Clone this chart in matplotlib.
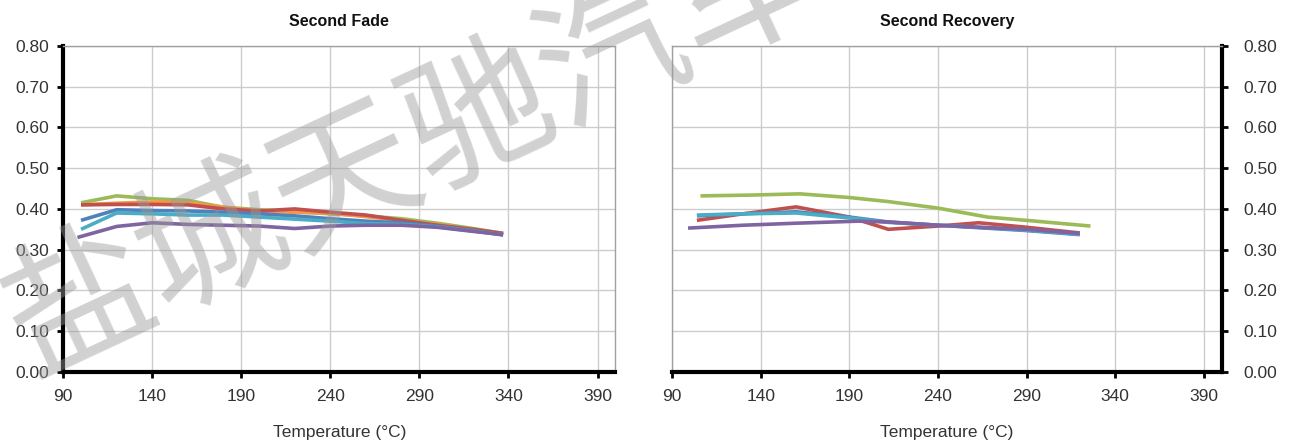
import matplotlib.pyplot as plt

plt.rcParams['font.family'] = ['Liberation Sans', 'DejaVu Sans']

# Excel-style series colours
GREEN = '#9BBB59'
RED = '#C0504D'
ORANGE = '#F79646'
BLUE = '#4F81BD'
CYAN = '#4BACC6'
PURPLE = '#8064A2'

# Second Fade
fade_temp = [100, 120, 140, 160, 180, 200, 220, 240, 260, 280, 300, 320, 337]
fade_purple_temp = [98, 120, 140, 160, 180, 200, 220, 240, 260, 280, 300, 320, 337]
fade_green = [0.415, 0.432, 0.425, 0.421, 0.404, 0.398, 0.393, 0.388, 0.383, 0.376, 0.365, 0.352, 0.340]
fade_orange = [0.410, 0.414, 0.417, 0.415, 0.404, 0.395, 0.392, 0.390, 0.381, 0.372, 0.362, 0.350, 0.338]
fade_red = [0.410, 0.411, 0.411, 0.410, 0.400, 0.395, 0.400, 0.392, 0.385, 0.372, 0.360, 0.350, 0.340]
fade_blue = [0.372, 0.398, 0.396, 0.395, 0.392, 0.388, 0.383, 0.376, 0.370, 0.366, 0.358, 0.347, 0.336]
fade_cyan = [0.350, 0.390, 0.388, 0.385, 0.385, 0.380, 0.375, 0.370, 0.364, 0.362, 0.356, 0.346, 0.337]
fade_purple = [0.330, 0.357, 0.366, 0.362, 0.360, 0.358, 0.352, 0.358, 0.360, 0.360, 0.355, 0.345, 0.337]

# Second Recovery
rec_green_temp = [106, 135, 162, 190, 212, 240, 268, 295, 326]
rec_green = [0.432, 0.434, 0.437, 0.428, 0.418, 0.402, 0.380, 0.370, 0.358]
rec_temp = [104, 130, 160, 190, 212, 240, 263, 290, 320]
rec_red = [0.372, 0.388, 0.405, 0.380, 0.350, 0.358, 0.366, 0.355, 0.341]
rec_blue = [0.383, 0.388, 0.393, 0.380, 0.368, 0.360, 0.354, 0.347, 0.337]
rec_cyan = [0.385, 0.388, 0.390, 0.378, 0.367, 0.360, 0.355, 0.348, 0.338]
rec_purple_temp = [99, 130, 160, 195, 212, 240, 263, 290, 320]
rec_purple = [0.353, 0.360, 0.365, 0.370, 0.368, 0.360, 0.355, 0.350, 0.340]

x_ticks = [90, 140, 190, 240, 290, 340, 390]
y_ticks = [0.0, 0.1, 0.2, 0.3, 0.4, 0.5, 0.6, 0.7, 0.8]

fig = plt.figure(figsize=(12.9, 4.45), dpi=100)
ax1 = fig.add_axes([0.049, 0.164, 0.428, 0.733])
ax2 = fig.add_axes([0.521, 0.164, 0.426, 0.733])

fade_series = [
    (fade_temp, fade_green, GREEN),
    (fade_temp, fade_orange, ORANGE),
    (fade_temp, fade_red, RED),
    (fade_temp, fade_blue, BLUE),
    (fade_temp, fade_cyan, CYAN),
    (fade_purple_temp, fade_purple, PURPLE),
]
rec_series = [
    (rec_green_temp, rec_green, GREEN),
    (rec_temp, rec_red, RED),
    (rec_temp, rec_blue, BLUE),
    (rec_temp, rec_cyan, CYAN),
    (rec_purple_temp, rec_purple, PURPLE),
]

txt = '#333333'
for ax, series, title in [(ax1, fade_series, 'Second Fade'),
                          (ax2, rec_series, 'Second Recovery')]:
    for xs, ys, c in series:
        ax.plot(xs, ys, color=c, lw=2.6, solid_capstyle='butt', zorder=3)
    ax.set_xlim(90, 400)
    ax.set_ylim(0, 0.8)
    ax.set_xticks(x_ticks)
    ax.set_yticks(y_ticks)
    ax.set_yticklabels([f'{v:.2f}' for v in y_ticks])
    ax.grid(True, color='#cccccc', lw=1.0, zorder=0)
    ax.set_axisbelow(True)
    ax.set_title(title, fontsize=11.5, fontweight='bold', pad=14, color='#111111')
    ax.set_xlabel('Temperature (°C)', fontsize=12.5, color=txt, labelpad=15)
    ax.tick_params(labelsize=12.5, labelcolor=txt, length=4, width=2,
                   direction='out', color='black')
    ax.tick_params(axis='x', pad=8)
    for s in ax.spines.values():
        s.set_color('#a0a0a0')
        s.set_linewidth(1.0)
    ax.spines['bottom'].set_color('black')
    ax.spines['bottom'].set_linewidth(3.0)

ax1.spines['left'].set_color('black')
ax1.spines['left'].set_linewidth(3.0)
ax1.tick_params(axis='y', pad=6)

ax2.yaxis.tick_right()
ax2.spines['right'].set_color('black')
ax2.spines['right'].set_linewidth(3.0)
ax2.tick_params(axis='y', pad=12)

# watermark
fig.text(0.32, 0.665, '盐城天驰汽车', fontsize=106, color='#9a9a9a', alpha=0.45,
         rotation=25, ha='center', va='center',
         family=['Noto Sans CJK SC', 'DejaVu Sans'], zorder=10)

fig.savefig('out.png', dpi=100)
